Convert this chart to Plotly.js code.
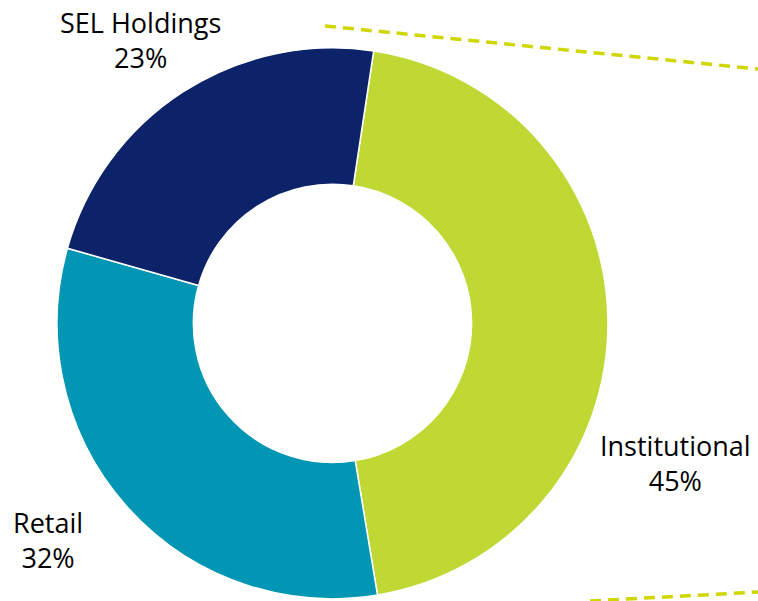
<!DOCTYPE html>
<html>
<head>
<meta charset="utf-8">
<script src="https://cdn.plot.ly/plotly-3.0.1.min.js"></script>
<style>html,body{margin:0;padding:0;background:#fff;}#chart{width:758px;height:601px;}</style>
</head>
<body>
<div id="chart"></div>
<script>
const categories = ["Institutional", "Retail", "SEL Holdings"];
const shares = [45, 32, 23];
const percentLabels = ["45%", "32%", "23%"];
const sliceColors = ["#BFD833", "#0096B4", "#0C2369"];

const W = 758, H = 601;
const cx = 332.5, cy = 323.3, R = 275.5;

const trace = {
  type: "pie",
  labels: categories,
  values: shares,
  hole: 0.505,
  sort: false,
  direction: "clockwise",
  rotation: 8.6,
  textinfo: "none",
  hoverinfo: "label+percent",
  marker: {colors: sliceColors, line: {color: "#ffffff", width: 1.5}},
  domain: {
    x: [(cx - R) / W, (cx + R) / W],
    y: [(H - cy - R) / H, (H - cy + R) / H]
  },
  showlegend: false
};

const labelPos = [
  {x: 675, y: 463},
  {x: 48, y: 540},
  {x: 140.5, y: 40}
];

const annotations = categories.map((c, i) => ({
  text: c + "<br>" + percentLabels[i],
  x: labelPos[i].x / W,
  y: 1 - labelPos[i].y / H,
  xref: "paper", yref: "paper",
  xanchor: "center", yanchor: "middle",
  showarrow: false,
  font: {family: "Open Sans", size: 27, color: "#000000"}
}));

const dashColor = "#CFD600";
const shapes = [
  {type: "line", xref: "paper", yref: "paper",
   x0: 325 / W, y0: 1 - 26 / H, x1: 758 / W, y1: 1 - 69 / H,
   line: {color: dashColor, width: 3.5, dash: "11px,7px"}},
  {type: "line", xref: "paper", yref: "paper",
   x0: 590 / W, y0: 1 - 601 / H, x1: 758 / W, y1: 1 - 592 / H,
   line: {color: dashColor, width: 3.5, dash: "11px,7px"}}
];

Plotly.newPlot("chart", [trace], {
  width: W, height: H,
  margin: {l: 0, r: 0, t: 0, b: 0},
  paper_bgcolor: "#ffffff",
  plot_bgcolor: "#ffffff",
  annotations: annotations,
  shapes: shapes
}, {displayModeBar: false, staticPlot: true});
</script>
</body>
</html>
